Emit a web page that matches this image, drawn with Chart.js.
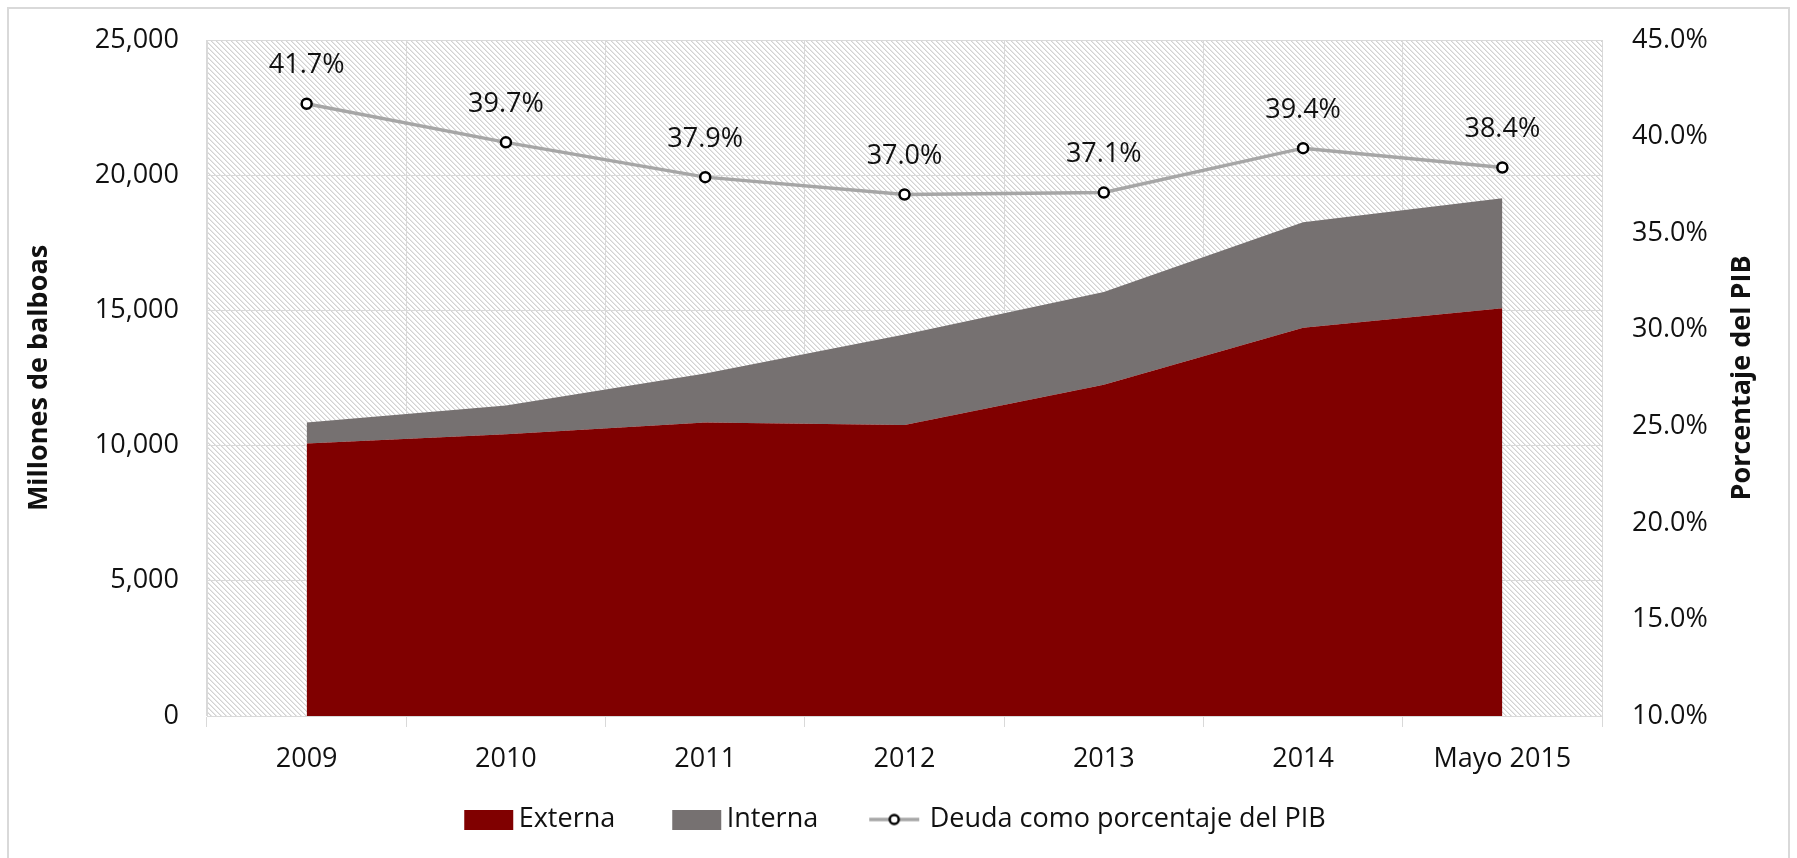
<!DOCTYPE html>
<html lang="es">
<head>
<meta charset="UTF-8">
<title>Deuda pública</title>
<script src="https://cdn.jsdelivr.net/npm/chart.js@4/dist/chart.umd.min.js"></script>
<style>
  html, body { margin: 0; padding: 0; background: #fff; }
  #wrap { position: relative; width: 1797px; height: 858px; }
</style>
</head>
<body>
<div id="wrap"><canvas id="chart"></canvas></div>
<script>
// values (millones de balboas / % del PIB)
const categories = ['2009', '2010', '2011', '2012', '2013', '2014', 'Mayo 2015']
const externa = [10080, 10420, 10850, 10760, 12250, 14360, 15080]
const interna = [770, 1060, 1820, 3350, 3430, 3900, 4070]
const deudaPib = [41.7, 39.7, 37.9, 37.0, 37.1, 39.4, 38.4]

const MAROON = '#800000'
const GREY = '#767171'
const LINE = '#a6a6a6'
const GRID = '#d9d9d9'
const TEXT = '#111111'

Chart.defaults.font.family = "'Open Sans', sans-serif"
Chart.defaults.font.size = 27
Chart.defaults.color = TEXT

function hatchPattern(ctx) {
  const c = document.createElement('canvas')
  c.width = 5; c.height = 5
  const g = c.getContext('2d')
  g.fillStyle = '#fff'
  g.fillRect(0, 0, 5, 5)
  for (let i = 0; i < 5; i++) {
    g.fillStyle = '#d2d2d2'
    g.fillRect(i, i, 1, 1)
    g.fillStyle = '#e8e8e8'
    g.fillRect((i + 1) % 5, i, 1, 1)
  }
  return ctx.createPattern(c, 'repeat')
}

// legend glyphs: wide canvas, drawn near its right side so the gap to the text is small
function boxGlyph(color) {
  const c = document.createElement('canvas')
  c.width = 88; c.height = 20
  const g = c.getContext('2d')
  g.fillStyle = color
  g.fillRect(38, 0, 49, 20)
  return c
}

function lineGlyph() {
  const c = document.createElement('canvas')
  c.width = 88; c.height = 16
  const g = c.getContext('2d')
  g.strokeStyle = LINE
  g.lineWidth = 3.5
  g.beginPath(); g.moveTo(32, 8); g.lineTo(82, 8); g.stroke()
  g.fillStyle = '#fff'
  g.strokeStyle = '#000'
  g.lineWidth = 2.5
  g.beginPath(); g.arc(57, 8, 4.5, 0, Math.PI * 2); g.fill(); g.stroke()
  return c
}

const chartBackground = {
  id: 'chartBackground',
  beforeDraw(chart) {
    const { ctx, chartArea: a } = chart
    ctx.save()
    ctx.strokeStyle = GRID
    ctx.lineWidth = 2
    ctx.strokeRect(8, 8, chart.width - 16, chart.height + 20)
    ctx.fillStyle = hatchPattern(ctx)
    ctx.fillRect(a.left, a.top, a.right - a.left, a.bottom - a.top)
    ctx.restore()
  }
}

const pointLabels = {
  id: 'pointLabels',
  afterDatasetsDraw(chart) {
    const { ctx } = chart
    const meta = chart.getDatasetMeta(0)
    ctx.save()
    ctx.font = "27px 'Open Sans', sans-serif"
    ctx.fillStyle = TEXT
    ctx.textAlign = 'center'
    ctx.textBaseline = 'middle'
    meta.data.forEach((pt, i) => {
      ctx.fillText(deudaPib[i].toFixed(1) + '%', pt.x, pt.y - 38)
    })
    ctx.restore()
  }
}

const rightTitle = {
  id: 'rightTitle',
  afterDraw(chart) {
    const { ctx, chartArea: a } = chart
    ctx.save()
    ctx.translate(1742, (a.top + a.bottom) / 2)
    ctx.rotate(-Math.PI / 2)
    ctx.font = "bold 27px 'Open Sans', sans-serif"
    ctx.fillStyle = TEXT
    ctx.textAlign = 'center'
    ctx.textBaseline = 'middle'
    ctx.fillText('Porcentaje del PIB', 0, 0)
    ctx.restore()
  }
}

window.onload = function() {
  const ctx = document.getElementById('chart').getContext('2d')
  const glyphs = [boxGlyph(MAROON), boxGlyph(GREY), lineGlyph()]

  new Chart(ctx, {
    type: 'line',
    data: {
      labels: categories,
      datasets: [
        {
          label: 'Deuda como porcentaje del PIB',
          data: deudaPib,
          yAxisID: 'y1',
          order: 0,
          borderColor: LINE,
          borderWidth: 3.5,
          pointRadius: 5,
          pointBorderWidth: 2.5,
          pointBorderColor: '#000',
          pointBackgroundColor: '#fff',
          fill: false,
          tension: 0
        },
        {
          label: 'Externa',
          data: externa,
          yAxisID: 'y',
          order: 1,
          backgroundColor: MAROON,
          borderWidth: 0,
          pointRadius: 0,
          fill: 'origin',
          tension: 0
        },
        {
          label: 'Interna',
          data: interna,
          yAxisID: 'y',
          order: 2,
          backgroundColor: GREY,
          borderWidth: 0,
          pointRadius: 0,
          fill: '-1',
          tension: 0
        }
      ]
    },
    options: {
      responsive: true,
      maintainAspectRatio: false,
      animation: false,
      layout: { autoPadding: false, padding: { left: 12, right: 48, top: 40, bottom: 15 } },
      plugins: {
        tooltip: { enabled: false },
        legend: {
          position: 'bottom',
          labels: {
            usePointStyle: true,
            pointStyleWidth: 70,
            boxHeight: 20,
            padding: 28,
            font: { size: 27 },
            color: TEXT,
            generateLabels(chart) {
              const ds = chart.data.datasets
              return [1, 2, 0].map((i, k) => ({
                text: ds[i].label,
                datasetIndex: i,
                pointStyle: glyphs[k],
                fillStyle: ds[i].backgroundColor || '#fff',
                strokeStyle: 'transparent',
                lineWidth: 0,
                fontColor: TEXT
              }))
            }
          }
        }
      },
      scales: {
        x: {
          offset: true,
          grid: { color: GRID, lineWidth: 1, offset: true, tickLength: 11, tickColor: GRID },
          border: { color: GRID },
          ticks: { padding: 16, maxRotation: 0, font: { size: 27 } },
          afterFit(scale) { scale.height = 62 }
        },
        y: {
          position: 'left',
          stacked: true,
          min: 0,
          max: 25000,
          ticks: {
            stepSize: 5000,
            padding: 8,
            font: { size: 27 },
            callback: (v) => v.toLocaleString('en-US')
          },
          // invisible tick marks keep the labels clear of the axis
          grid: { color: GRID, tickLength: 20, tickColor: 'transparent' },
          border: { color: GRID },
          title: {
            display: true,
            text: 'Millones de balboas',
            font: { size: 27, weight: 'bold' },
            padding: { top: 11, bottom: 0 }
          },
          afterFit(scale) { scale.width = 195 }
        },
        y1: {
          position: 'right',
          min: 10,
          max: 45,
          ticks: {
            stepSize: 5,
            padding: 8,
            font: { size: 27 },
            callback: (v) => v.toFixed(1) + '%'
          },
          grid: { drawOnChartArea: false, tickLength: 22, tickColor: 'transparent' },
          border: { display: false },
          afterFit(scale) { scale.width = 147 }
        }
      }
    },
    plugins: [chartBackground, pointLabels, rightTitle]
  })
}
</script>
</body>
</html>
